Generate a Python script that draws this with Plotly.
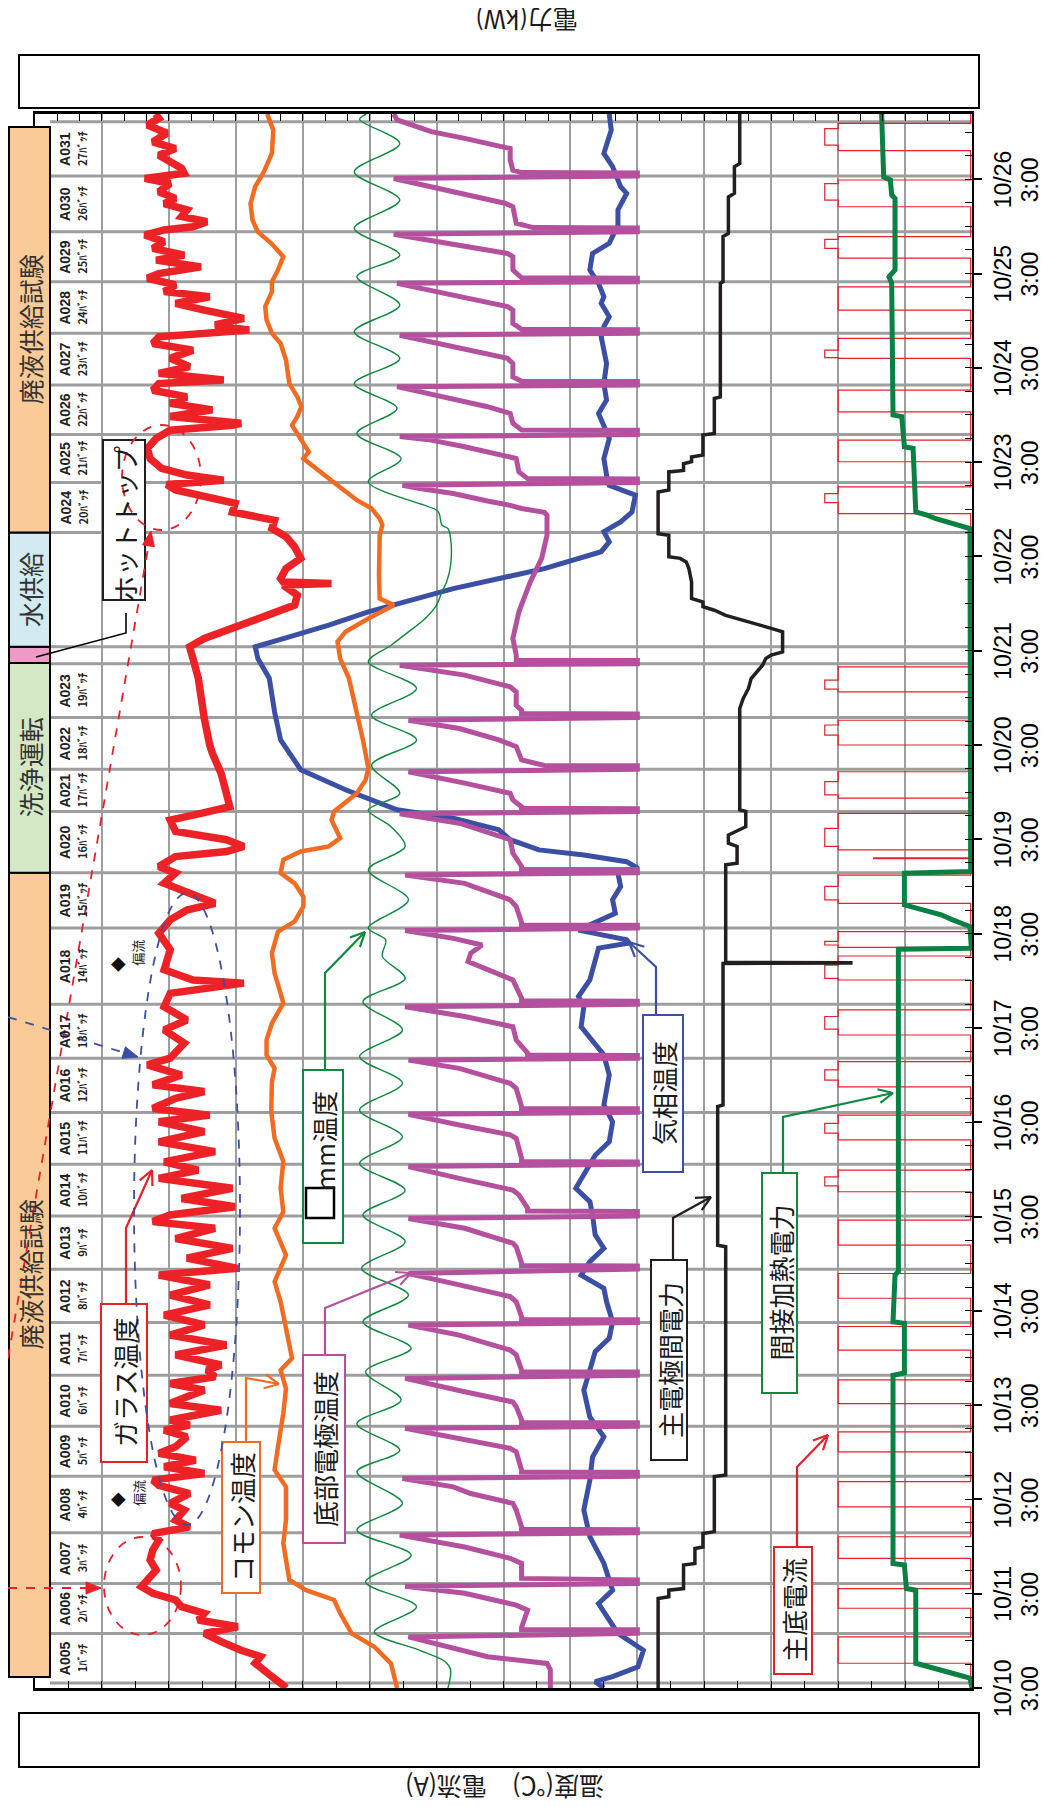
import math
import pandas as pd
import plotly.graph_objects as go

# ---------------- time base ----------------
START = pd.Timestamp("2013-10-10 03:00")
END_H = 400.6  # hours shown after START


def when(h):
    return (START + pd.Timedelta(hours=h)).strftime("%Y-%m-%d %H:%M:%S")


def whens(hs):
    return [when(h) for h in hs]


# ---------------- data (hours after 10/10 3:00) ----------------
# batch boundary lines
BOUNDS_H = [1.3, 13.9, 26.6, 39.5, 53.9, 66.6, 79.6, 93.0, 106.6, 120.1, 133.3, 146.5, 160.3,
            174.0, 193.4, 207.5, 223.1, 233.8, 247.0, 260.7, 265.0, 294.1, 306.8, 319.0,
            331.6, 344.8, 357.9, 370.6, 384.8, 398.6]
BATCH_IDS = ["A%03d" % n for n in range(5, 32)]
BATCH_NOS = ["%dﾊﾞｯﾁ" % n for n in range(1, 28)]

PHASE_NAME = ["廃液供給試験", "洗浄運転", "", "水供給", "廃液供給試験"]
PHASE_FROM = [2.8, 207.5, 260.9, 265.0, 294.1]
PHASE_TO = [207.5, 260.9, 265.0, 294.1, 397.3]
PHASE_COLOR = ["#FBCB97", "#D4E8C6", "#EE9AC6", "#D2EBF3", "#FBCB97"]

# glass temperature (°C)
GLASS_H = [0.0, 0.7, 2.9, 4.6, 6.3, 8.0, 9.6, 11.8, 13.9, 15.6, 17.3, 19.0, 20.7, 22.4, 24.1, 25.8,
           27.5, 30.0, 32.6, 35.1, 37.6, 39.3, 41.0, 42.7, 45.3, 47.0, 49.5, 51.6, 52.9, 54.6, 56.3,
           58.0, 59.7, 61.4, 63.9, 65.6, 66.9, 68.2, 70.7, 72.4, 74.1, 75.8, 77.5, 79.2, 80.9,
           82.2, 84.8, 87.3, 89.8, 92.4, 94.9, 97.5, 100.0, 102.6, 105.1, 106.8, 109.4, 111.9,
           114.4, 117.0, 118.7, 120.4, 122.5, 124.6, 127.2, 129.7, 131.8, 133.9, 136.5, 139.0,
           141.6, 144.1, 145.8, 147.5, 150.1, 151.8, 153.5, 156.0, 158.6, 160.3,
           164.1, 167.5, 170.0, 173.4, 176.8, 179.4, 180.2, 182.8, 187.9, 192.1, 195.5, 198.0,
           199.7, 202.3, 204.8, 207.4, 209.1, 211.6, 212.9, 214.2, 215.9, 218.0, 220.9, 222.6,
           224.3, 227.7, 232.8, 237.9,
           240.0, 246.7, 251.8, 257.0, 262.0, 265.0, 267.1, 269.7, 272.2, 275.6, 278.1, 280.7,
           281.1, 281.5, 282.4, 284.9, 287.5, 290.4, 293.0, 295.1, 297.2, 299.3, 301.5, 303.2,
           304.9, 306.3, 307.4, 308.7, 310.4, 312.9, 315.5, 318.0, 320.1, 321.4,
           321.9, 323.6, 325.3, 327.0, 328.6, 330.3, 332.0, 332.9, 334.6, 336.3, 338.4, 340.5,
           342.2, 343.9, 345.6, 346.9, 348.6, 350.7, 352.4, 354.1, 355.4, 357.1, 358.8, 360.0,
           361.7, 363.4, 364.7, 366.4, 368.1, 369.8, 371.1, 371.9, 373.2, 374.5, 376.2, 377.8,
           379.1, 380.8, 382.9, 384.2, 385.5, 386.8, 388.5, 390.1, 391.8, 393.5, 395.7, 397.8,
           399.5, 400.6]
GLASS_T = [1025, 1029, 1046, 1058, 1071, 1063, 1092, 1122, 1147, 1097, 1156, 1147, 1181, 1190, 1224,
           1241, 1232, 1219, 1228, 1224, 1215, 1224, 1169, 1190, 1177, 1198, 1169, 1215, 1224, 1147,
           1207, 1160, 1215, 1190, 1173, 1207, 1169, 1198, 1122, 1198, 1173, 1147, 1198, 1131, 1143,
           1122, 1190, 1114, 1198, 1147, 1207, 1139, 1198, 1139, 1215, 1097, 1173, 1105,
           1190, 1131, 1224, 1198, 1101, 1181, 1105, 1215, 1156, 1207, 1131, 1215,
           1147, 1215, 1139, 1224, 1190, 1147, 1224, 1181, 1232, 1198,
           1177, 1207, 1173, 1207, 1198, 1088, 1164, 1207, 1198, 1215, 1198, 1173,
           1131, 1173, 1207, 1190, 1215, 1190, 1114, 1088, 1114, 1190, 1198, 1152,
           1109, 1114, 1122, 1135,
           1139, 1147, 1152, 1156, 1164, 1169, 1147, 1105, 1063, 1012, 1008, 1029,
           957, 1029, 1033, 1025, 1003, 1012, 1025, 1046, 1042, 1105, 1101, 1147,
           1190, 1203, 1118, 1173, 1211, 1228, 1232, 1219, 1198, 1105,
           1092, 1198, 1135, 1198, 1173, 1224, 1215, 1118, 1215, 1169, 1198, 1164,
           1224, 1215, 1080, 1131, 1088, 1147, 1190, 1139, 1207, 1190, 1232, 1215,
           1152, 1219, 1177, 1224, 1207, 1236, 1207, 1164, 1143, 1181, 1173, 1207,
           1190, 1215, 1198, 1236, 1177, 1181, 1198, 1215, 1190, 1224, 1203, 1232,
           1215, 1220]

# common (コモン) temperature (°C)
COMMON_H = [0, 6.2, 10.5, 13.9, 19.0, 22.4, 24.9, 27.5, 36.8, 42.7, 51.2, 55.5, 61.4, 69.9, 76.2,
            80.9, 83.9, 87.3, 92.4, 98.3, 103.4, 110.2, 117.0, 121.2, 127.2, 134.0, 139.9, 146.7,
            154.3, 157.7, 161.1, 164.9, 169.2, 174.3, 176.8, 181.9, 187.0, 192.5, 195.1, 198.9,
            201.4, 204.8, 207.4, 210.8, 212.9, 214.2, 216.3, 220.9, 223.1, 227.7, 231.1, 234.1,
            241.3, 245.1, 251.0, 257.0, 262.0, 266.3, 268.8, 272.2, 275.6, 277.3, 283.2, 293.4,
            296.0, 297.6, 300.2, 302.3, 306.1, 307.8, 312.9, 314.6, 318.9, 321.4, 323.6, 326.1,
            328.6, 332.0, 338.0, 342.2, 344.8, 348.2, 351.6, 355.4, 357.9, 360.9, 364.3, 367.7,
            370.6, 373.6, 377.8, 382.1, 385.9, 390.6, 396.5, 400.6]
COMMON_T = [859, 868, 893, 927, 944, 953, 995, 1020, 1029, 1025, 1025, 1042, 1037, 1029, 1025,
            1033, 1016, 1020, 1025, 1033, 1042, 1025, 1042, 1029, 1033, 1029, 1042, 1047,
            1046, 1042, 1054, 1054, 1046, 1029, 1033, 1042, 1046, 1037, 1012, 999,
            999, 1012, 1033, 1029, 1003, 961, 944, 957, 953, 919, 906, 902,
            910, 915, 923, 931, 944, 948, 936, 902, 864, 885, 886, 885,
            881, 885, 897, 919, 948, 961, 999, 991, 1008, 1016, 1008, 1002,
            1008, 1020, 1025, 1033, 1046, 1054, 1056, 1046, 1046, 1037, 1029, 1047,
            1067, 1075, 1078, 1071, 1058, 1046, 1044, 1053]

# □mm temperature (°C)
MM_H = [0, 4.6, 6.7, 9.6, 14.3, 20.7, 27.0, 33.8, 40.2, 47.0, 55.0, 60.5, 67.3, 73.3, 80.5, 86.5,
        93.2, 100.0, 106.8, 113.6, 120.4, 126.7, 133.5, 140.3, 147.1, 153.9, 160.7, 167.5, 174.7,
        180.6, 186.2, 190.4, 193.4, 200.6, 208.2, 214.2, 219.2, 223.5, 227.7, 234.9, 241.3, 247.6,
        254.4, 261.2, 265.4, 268.8, 272.2, 275.6, 279.0, 281.5, 285.8, 292.6, 295.1, 296.0, 298.9,
        299.8, 307.0, 312.9, 319.3, 325.7, 332.0, 338.4, 345.2, 352.0, 359.2, 364.7, 371.5, 378.7,
        385.9, 393.1, 399.2, 400.6]
MM_T = [783, 779, 787, 825, 893, 830, 906, 838, 919, 851, 919, 855, 919, 853, 906, 838,
        910, 842, 912, 847, 910, 847, 915, 851, 915, 851, 915, 851, 910,
        847, 881, 876, 902, 842, 902, 847, 868, 902, 855, 897, 830, 897,
        830, 902, 868, 842, 817, 800, 792, 785, 779, 779, 783, 792, 796,
        800, 902, 853, 919, 859, 923, 855, 923, 855, 919, 855, 923, 855,
        923, 855, 915, 905]

# bottom electrode temperature (°C)
BOTTOM_H = [0, 4.6, 6.25, 7.95, 13.0,
            13.9, 14.8, 14.9, 15.4, 19.8, 21.1, 24.1, 25.9,
            26.6, 27.5, 27.6, 27.9, 31.7, 33.0, 35.9, 38.9,
            39.5, 40.3, 40.4, 41.0, 45.3, 47.0, 49.5, 51.2, 53.3,
            53.9, 54.9, 55.0, 55.45, 60.1, 61.0, 63.1, 66.1,
            66.6, 67.5, 67.6, 68.2, 71.6, 72.8, 75.4, 78.8,
            79.6, 80.4, 80.5, 80.9, 84.8, 86.0, 89.8, 92.4,
            93.0, 93.7, 93.8, 94.5, 98.3, 99.6, 102.6, 105.5,
            106.6, 107.4, 107.5, 108.1, 112.3, 113.2, 117.0, 119.5,
            120.1, 121.3, 121.4, 122.1, 125.5, 126.7, 129.7, 132.7,
            133.3, 133.9, 134.0, 134.8, 139.9, 140.8, 143.3, 146.0,
            146.5, 147.4, 147.5, 148.0, 152.6, 153.9, 157.7, 159.8,
            160.3, 161.0, 161.1, 161.6, 164.9, 168.3, 170.9, 173.4,
            174.0, 174.8, 174.9, 175.6, 180.2, 182.8, 184.9, 187.0, 189.1, 190.8, 192.8,
            193.4, 194.1, 194.2, 194.8, 198.9, 200.6, 204.8, 206.9,
            207.5, 208.3, 208.4, 209.1, 212.5, 215.9, 220.1, 222.5,
            223.1, 223.8, 223.9, 224.3, 226.0, 227.7, 230.3, 233.2,
            233.8, 234.7, 234.8, 236.2, 239.6, 241.3, 244.2, 246.3,
            247.0, 247.9, 248.0, 248.9, 250.1, 253.5, 254.8, 257.8, 260.3,
            260.7, 261.5, 261.6, 262.9, 267.1, 273.9, 281.5, 287.5, 293.4, 298.5, 299.2, 300.2,
            301.0, 302.1, 304.0, 305.3, 306.1,
            306.8, 307.7, 307.8, 309.5, 312.9, 313.3, 315.9, 317.6, 318.5,
            319.0, 320.1, 320.2, 321.9, 324.4, 326.1, 331.2,
            331.6, 332.5, 332.6, 333.7, 337.1, 338.4, 344.3,
            344.8, 345.7, 345.8, 347.3, 350.7, 351.6, 357.5,
            357.9, 358.8, 358.9, 360.9, 364.3, 365.1, 370.0,
            370.6, 371.6, 371.7, 372.8, 377.0, 377.9, 384.2,
            384.8, 385.6, 385.7, 386.3, 388.9, 391.8, 394.4, 396.1, 399.1, 400.6]
BOTTOM_T = [630, 630, 635, 724, 842,
            500, 500, 673, 673, 664, 681, 758, 847,
            500, 500, 673, 673, 673, 690, 758, 855,
            500, 500, 673, 673, 681, 686, 749, 775, 851,
            500, 500, 673, 673, 681, 690, 758, 847,
            500, 500, 673, 673, 681, 686, 758, 847,
            500, 500, 673, 673, 681, 690, 766, 842,
            500, 500, 673, 673, 681, 690, 766, 842,
            500, 500, 673, 673, 681, 686, 758, 842,
            500, 500, 664, 664, 677, 686, 766, 842,
            500, 500, 673, 673, 681, 690, 766, 842,
            500, 500, 673, 673, 681, 690, 766, 842,
            500, 500, 664, 664, 681, 686, 758, 847,
            500, 500, 673, 673, 686, 724, 753, 749, 732, 775, 847,
            500, 500, 673, 673, 681, 690, 758, 847,
            500, 500, 673, 673, 686, 690, 766, 855,
            500, 500, 673, 673, 686, 690, 758, 842,
            500, 500, 639, 673, 681, 707, 766, 842,
            500, 500, 673, 673, 681, 681, 690, 758, 855,
            500, 500, 681, 681, 686, 677, 660, 643, 635, 635, 639, 673,
            690, 724, 775, 825, 851,
            500, 500, 664, 677, 681, 690, 758, 808, 855,
            500, 500, 673, 686, 690, 724, 859,
            500, 500, 673, 686, 686, 694, 855,
            500, 500, 673, 686, 686, 694, 859,
            500, 500, 673, 686, 686, 694, 864,
            500, 500, 656, 681, 686, 698, 864,
            500, 500, 673, 686, 690, 690, 758, 808, 859, 864]

# gas phase temperature (°C)
GAS_H = [0, 1.6, 2.9, 5.4, 9.6, 13.9, 21.5, 24.9, 31.7, 38.5, 45.3, 52.9, 58.8, 63.9, 69.0, 75.8,
         80.9, 85.6, 89.0, 93.2, 98.3, 101.7, 105.1, 108.5, 111.9, 115.3, 120.4, 123.8, 127.2,
         130.6, 135.6, 139.0, 144.1, 148.4, 156.0, 161.1, 164.9, 168.3, 173.4, 176.0, 180.2,
         185.3, 188.3, 189.6, 190.4, 192.9, 194.6, 197.2, 200.6, 204.0, 207.4, 208.6, 210.3,
         212.0, 213.3, 215.9, 218.4, 221.4, 223.5, 228.6, 233.7, 241.3, 248.4, 257.0, 262.0,
         265.0, 267.1, 270.5, 273.9, 277.3, 279.8, 284.9, 289.2, 291.7, 294.3, 296.8, 299.3,
         303.6, 306.1, 308.7, 312.9, 318.0, 321.4, 324.4, 327.8, 332.0, 337.1, 343.9, 346.5,
         349.0, 352.4, 354.1, 357.5, 360.9, 365.1, 367.7, 372.3, 376.2, 380.4, 382.1, 387.2,
         390.6, 396.5, 400.6]
GAS_T = [550, 563, 537, 499, 491, 529, 558, 537, 550, 571, 580, 571, 567, 550, 571, 580,
         571, 563, 542, 537, 546, 550, 584, 571, 550, 563, 567, 571, 592,
         580, 563, 542, 537, 550, 542, 550, 567, 584, 580, 588, 571,
         563, 558, 512, 516, 588, 567, 533, 537, 525, 529, 499, 516,
         580, 647, 690, 707, 775, 859, 936, 1003, 1033, 1042, 1050, 1067,
         1071, 1029, 961, 902, 825, 775, 639, 554, 542, 550, 525, 508,
         503, 542, 546, 550, 542, 550, 558, 546, 550, 546, 554, 550,
         542, 554, 550, 558, 571, 567, 542, 529, 529, 516, 525, 537,
         550, 539, 542]

# main electrode power (kW)
MAINPOW_H = [0, 22.8, 23.2, 24.9, 25.3, 31.3, 31.7, 35.5, 35.9, 39.3, 39.8, 53.8, 54.2, 112.3,
             112.7, 148.0, 148.4, 184.4, 184.5, 184.6, 184.7, 209.5, 209.9, 214.2, 215.0, 217.1,
             219.2, 223.1, 223.5, 249.3, 251.8, 254.4, 256.9, 258.6, 260.3, 262.0, 262.9, 263.7,
             268.8, 269.7, 270.5, 271.3, 272.2, 273.0, 274.3, 275.2, 276.4, 277.3, 281.5, 284.9,
             286.6, 287.5, 287.9, 293.4, 293.8, 304.4, 304.9, 309.5, 309.9, 311.6, 312.1, 313.3,
             313.8, 318.9, 319.3, 328.2, 328.6, 357.5, 357.9, 369.4, 370.2, 379.5, 380.4, 387.2,
             388.0, 400.6]
MAINPOW_KW = [46.9, 46.9, 45.3, 45.3, 43.1, 43.1, 41.4, 41.4, 40.2, 40.2, 38.5, 38.5, 36.8, 36.8,
              38.0, 38.0, 37.2, 37.2, 18.1, 18.1, 36.8, 36.8, 35.1, 35.1, 36.4, 36.4,
              33.8, 33.8, 34.7, 34.7, 34.2, 33.4, 33.0, 32.1, 31.3, 30.8, 30.0, 28.3,
              28.3, 30.0, 31.7, 33.4, 35.1, 36.8, 38.5, 40.2, 40.2, 41.9, 41.9, 42.3,
              42.7, 43.6, 45.3, 45.3, 46.9, 46.9, 45.3, 45.3, 43.1, 43.1, 41.9, 41.9,
              40.2, 40.2, 38.5, 38.5, 37.6, 37.6, 37.2, 37.2, 36.4, 36.4, 35.5, 35.5,
              34.7, 34.7]

# indirect heating power (kW)
INDPOW_H = [0, 2.5, 3.3, 4.1, 5.0, 5.8, 6.3, 24.9, 25.3, 31.3, 31.7, 79.6, 80.2, 92.8, 93.2,
            105.1, 106.0, 188.0, 188.3, 193.8, 194.6, 195.5, 196.8, 197.6, 198.5, 199.3, 207.4,
            207.8, 295.1, 295.9, 296.8, 297.6, 298.5, 299.3, 315.5, 315.9, 323.6, 324.0, 357.5,
            359.2, 360.9, 379.1, 380.0, 383.8, 384.6, 400.6]
INDPOW_KW = [0, 0.3, 2.0, 3.7, 5.0, 6.7, 8.4, 8.4, 9.8, 10.1, 11.8, 11.8, 10.1, 10.1, 11.8,
             11.5, 11.0, 11.0, 0.1, 0.3, 1.6, 2.9, 4.6, 6.3, 8.0, 10.1, 10.1,
             0.2, 0.3, 2.0, 3.7, 5.4, 6.7, 8.4, 8.8, 10.1, 10.5, 11.8, 12.0,
             12.4, 11.5, 11.5, 12.0, 12.2, 13.2, 13.5]

# main bottom current (A): pulses
PULSE_START = [6.3, 20.3, 33.0, 46.1, 60.1, 72.4, 86.0, 99.2, 112.7, 126.3, 139.5, 153.0, 166.2,
               180.2, 188.5, 199.7, 211.1, 213.3, 226.5, 240.0, 253.5, 298.9, 312.1, 324.8, 338.4,
               350.7, 363.9, 377.0, 391.3]
PULSE_HI_START = [None] * 9 + [127.8, 141.2, 154.7, 167.7, 180.6, 189.1, 200.6, None, 214.2,
                               227.3, 242.5, 254.2, 301.7, None, None, 338.6, None, 366.4, 378.7,
                               392.7]
PULSE_HI_END = [None] * 9 + [130.1, 143.7, 157.3, 170.9, 184.0, 190.0, 204.0, None, 218.8,
                             230.7, 245.1, 256.5, 304.0, None, None, 340.5, None, 368.7, 382.9,
                             396.9]
PULSE_END = [13.0, 25.3, 38.5, 52.5, 65.2, 78.4, 92.0, 105.5, 119.1, 131.8, 145.8, 159.4, 172.6,
             186.3, 192.5, 206.9, 211.3, 222.6, 233.2, 246.3, 259.9, 305.7, 317.6, 330.3, 343.5,
             356.6, 369.4, 383.8, 398.2]
PULSE_LEVEL = [200] * 16 + [147] + [200] * 12
CURRENT_BASE = 2
CURRENT_HIGH = 220

TICK_DAYS = list(range(10, 27))
TICK_DATE = ["10/%d" % d for d in TICK_DAYS]
TICK_TIME = ["3:00"] * len(TICK_DAYS)
TICK_VALS = [when(24 * (d - 10)) for d in TICK_DAYS]

# ---------------- build current step series ----------------
cur_h, cur_a = [0.0], [CURRENT_BASE]
for s, hs, he, e, lv in zip(PULSE_START, PULSE_HI_START, PULSE_HI_END, PULSE_END, PULSE_LEVEL):
    cur_h.append(s); cur_a.append(lv)
    if hs is not None:
        cur_h += [hs, he]; cur_a += [CURRENT_HIGH, lv]
    cur_h.append(e); cur_a.append(CURRENT_BASE)
cur_h.append(END_H); cur_a.append(CURRENT_BASE)

# ---------------- figure ----------------
# the page body has an 8px default margin: size the figure so it fits the window
OFF = 8
W, H = 1048 - 2 * OFF, 1807 - 2 * OFF
L, R, T, B = 35.0, 972.0, 114.0, 1688.0   # plot frame in window pixels
JP = "Noto Sans CJK JP"
SANS = "Liberation Sans, Arial, sans-serif"


def px(x):
    return (x - L) / (R - L)


def py(y):
    return (B - y) / (B - T)


fig = go.Figure()

fig.add_trace(go.Scatter(x=cur_a, y=whens(cur_h), mode="lines", line=dict(color="#E8202A", width=1.2, shape="vh"),
                         xaxis="x", yaxis="y", name="主底電流"))
fig.add_trace(go.Scatter(x=INDPOW_KW, y=whens(INDPOW_H), mode="lines", line=dict(color="#0A8043", width=5),
                         xaxis="x2", yaxis="y", name="間接加熱電力"))
fig.add_trace(go.Scatter(x=MAINPOW_KW, y=whens(MAINPOW_H), mode="lines", line=dict(color="#231F20", width=3.5),
                         xaxis="x2", yaxis="y", name="主電極間電力"))
fig.add_trace(go.Scatter(x=GAS_T, y=whens(GAS_H), mode="lines", line=dict(color="#3B4FA4", width=5),
                         xaxis="x", yaxis="y", name="気相温度"))
fig.add_trace(go.Scatter(x=BOTTOM_T, y=whens(BOTTOM_H), mode="lines", line=dict(color="#B4509E", width=5),
                         xaxis="x", yaxis="y", name="底部電極温度"))
fig.add_trace(go.Scatter(x=MM_T, y=whens(MM_H), mode="lines",
                         line=dict(color="#10893E", width=1.4, shape="spline", smoothing=0.9),
                         xaxis="x", yaxis="y", name="mm温度"))
fig.add_trace(go.Scatter(x=COMMON_T, y=whens(COMMON_H), mode="lines", line=dict(color="#F26B22", width=4.5),
                         xaxis="x", yaxis="y", name="コモン温度"))
fig.add_trace(go.Scatter(x=GLASS_T, y=whens(GLASS_H), mode="lines", line=dict(color="#EC2227", width=7.5),
                         xaxis="x", yaxis="y", name="ガラス温度"))

shapes = []
annots = []

# batch boundary lines
for h in BOUNDS_H:
    shapes.append(dict(type="line", xref="paper", yref="y", x0=px(50), x1=1, y0=when(h), y1=when(h),
                       line=dict(color="#9E9E9E", width=3), layer="between"))

# phase band
for name, a, b, col in zip(PHASE_NAME, PHASE_FROM, PHASE_TO, PHASE_COLOR):
    shapes.append(dict(type="rect", xref="paper", yref="y", x0=px(9), x1=px(50), y0=when(a), y1=when(b),
                       fillcolor=col, line=dict(color="black", width=2), layer="above"))
    if name:
        annots.append(dict(text=name, xref="paper", yref="y", x=px(29.5), y=when((a + b) / 2),
                           textangle=-90, showarrow=False, xanchor="center", yanchor="middle",
                           font=dict(family=JP, size=25, color="#333333")))

# batch row labels
rows = list(zip(BOUNDS_H[:19], BOUNDS_H[1:20])) + list(zip(BOUNDS_H[21:29], BOUNDS_H[22:30]))
for (a, b), bid, bno in zip(rows, BATCH_IDS, BATCH_NOS):
    mid = (a + b) / 2
    annots.append(dict(text="<b>%s</b>" % bid, xref="paper", yref="y", x=px(65), y=when(mid), textangle=-90,
                       showarrow=False, xanchor="center", yanchor="middle",
                       font=dict(family=SANS, size=14, color="#222222")))
    annots.append(dict(text="<b>%s</b>" % bno, xref="paper", yref="y", x=px(82), y=when(mid), textangle=-90,
                       showarrow=False, xanchor="center", yanchor="middle",
                       font=dict(family=JP, size=11, color="#222222")))

# ◆ 偏流 marks
for hd, hw in [(47.8, 49.6), (184.0, 187.1)]:
    annots.append(dict(text="◆", xref="paper", yref="y", x=px(117), y=when(hd), textangle=-90, showarrow=False,
                       xanchor="center", yanchor="middle",
                       font=dict(family=JP, size=15, color="#111111")))
    annots.append(dict(text="偏流", xref="paper", yref="y", x=px(138), y=when(hw), textangle=-90, showarrow=False,
                       xanchor="center", yanchor="middle",
                       font=dict(family=JP, size=13, color="#222222")))

# time axis labels (two rotated columns: date and hour)
for tv, d, tm in zip(TICK_VALS, TICK_DATE, TICK_TIME):
    annots.append(dict(text=d, xref="paper", yref="y", x=px(1003), y=tv, textangle=-90, showarrow=False,
                       xanchor="center", yanchor="middle", font=dict(family=SANS, size=23, color="black")))
    annots.append(dict(text=tm, xref="paper", yref="y", x=px(1030), y=tv, textangle=-90, showarrow=False,
                       xanchor="center", yanchor="middle", font=dict(family=SANS, size=23, color="black")))


def rect_px(x0, y0, x1, y1, color, width=2, fill="white"):
    shapes.append(dict(type="rect", xref="paper", yref="paper", x0=px(x0), x1=px(x1), y0=py(y1), y1=py(y0),
                       line=dict(color=color, width=width), fillcolor=fill, layer="above"))


def path_px(points):
    return "M " + " L ".join("%.5f,%.5f" % (px(x), py(y)) for x, y in points)


def callout(points, color, width=2.2, head=16, spread=0.45):
    shapes.append(dict(type="path", xref="paper", yref="paper", path=path_px(points),
                       line=dict(color=color, width=width), layer="above"))
    (x1, y1), (x2, y2) = points[-2], points[-1]
    a = math.atan2(y2 - y1, x2 - x1)
    for s in (spread, -spread):
        hx = x2 - head * math.cos(a + s)
        hy = y2 - head * math.sin(a + s)
        shapes.append(dict(type="path", xref="paper", yref="paper", path=path_px([(hx, hy), (x2, y2)]),
                           line=dict(color=color, width=width), layer="above"))


def dashed_arrow(p0, p1, color, width=1.8):
    shapes.append(dict(type="path", xref="paper", yref="paper", path=path_px([p0, p1]),
                       line=dict(color=color, width=width, dash="dash"), layer="above"))
    a = math.atan2(p1[1] - p0[1], p1[0] - p0[0])
    bx, by = p1[0] - 15 * math.cos(a), p1[1] - 15 * math.sin(a)
    nx, ny = -math.sin(a) * 6, math.cos(a) * 6
    shapes.append(dict(type="path", xref="paper", yref="paper",
                       path=path_px([p1, (bx + nx, by + ny), (bx - nx, by - ny)]) + " Z",
                       fillcolor=color, line=dict(color=color, width=1), layer="above"))


def ellipse_px(x0, y0, x1, y1, color):
    shapes.append(dict(type="circle", xref="paper", yref="paper", x0=px(x0), x1=px(x1), y0=py(y1), y1=py(y0),
                       line=dict(color=color, width=1.8, dash="dash"), layer="above"))


# masked tick-label boxes
rect_px(19, 55, 979, 108, "black", 2)
rect_px(19, 1713, 979, 1767, "black", 2)

# label boxes
LABELS = [
    ("ガラス温度", (101, 1304, 147, 1462), "#E8202A", 1383),
    ("コモン温度", (222, 1442, 260, 1593), "#F26B22", 1517),
    ("底部電極温度", (303, 1355, 345, 1543), "#B4509E", 1449),
    ("mm温度", (303, 1070, 343, 1243), "#10893E", 1141),
    ("気相温度", (643, 1015, 683, 1172), "#3B4FA4", 1093),
    ("主電極間電力", (651, 1260, 687, 1460), "#231F20", 1360),
    ("間接加熱電力", (762, 1173, 797, 1393), "#10893E", 1283),
    ("主底電流", (774, 1547, 812, 1674), "#E8202A", 1610),
    ("ホットトップ", (103, 440, 145, 600), "#231F20", 524),
]
for text, (x0, y0, x1, y1), col, cy in LABELS:
    rect_px(x0, y0, x1, y1, col, 2)
    annots.append(dict(text=text, xref="paper", yref="paper", x=px((x0 + x1) / 2), y=py(cy), textangle=-90,
                       showarrow=False, xanchor="center", yanchor="middle",
                       font=dict(family=JP, size=26, color="#1a1a1a")))
# redacted square in "□mm温度"
rect_px(306, 1188, 334, 1218, "black", 2.5)

# callout arrows
callout([(126, 1304), (126, 1228), (152, 1170)], "#E8202A")
callout([(246, 1442), (246, 1378), (279, 1384)], "#F26B22")
callout([(325, 1355), (325, 1308), (411, 1273)], "#B4509E")
callout([(325, 1070), (325, 973), (365, 932)], "#10893E")
callout([(656, 1015), (656, 967), (629, 942)], "#3B4FA4")
callout([(673, 1260), (673, 1218), (711, 1197)], "#231F20")
callout([(783, 1173), (783, 1117), (893, 1093)], "#10893E")
callout([(797, 1547), (797, 1467), (828, 1435)], "#E8202A")
shapes.append(dict(type="path", xref="paper", yref="paper", path=path_px([(36, 657), (126, 633), (126, 613)]),
                   line=dict(color="black", width=1.6), layer="above"))

# dashed highlights
ellipse_px(134, 893, 240, 1525, "#3B4FA4")
ellipse_px(122, 425, 201, 530, "#E8202A")
ellipse_px(104, 1537, 181, 1635, "#E8202A")
dashed_arrow((8, 1358), (151, 531), "#E8202A")
dashed_arrow((8, 1588), (101, 1588), "#E8202A")
dashed_arrow((8, 1017), (138, 1057), "#3B4FA4")

# axis titles (upside down, as in the rotated original)
annots.append(dict(text="電力(kW)", xref="paper", yref="paper", x=px(527), y=py(21), textangle=180,
                   xanchor="center", yanchor="middle",
                   showarrow=False, font=dict(family=JP, size=25, color="#1a1a1a")))
annots.append(dict(text="温度(℃)　電流(A)", xref="paper", yref="paper", x=px(505), y=py(1788), textangle=180,
                   xanchor="center", yanchor="middle",
                   showarrow=False, font=dict(family=JP, size=25, color="#1a1a1a")))

fig.update_layout(
    width=W, height=H, autosize=False,
    margin=dict(l=L - OFF, r=(W + OFF) - R, t=T - OFF, b=(H + OFF) - B, pad=0),
    paper_bgcolor="white", plot_bgcolor="white", showlegend=False,
    shapes=shapes, annotations=annots,
    xaxis=dict(range=[1400, 0], tick0=0, dtick=100, showgrid=True, gridcolor="#9E9E9E", gridwidth=2,
               showticklabels=False, ticks="inside", ticklen=7, tickcolor="black", tickwidth=1.2,
               minor=dict(dtick=50, ticks="inside", ticklen=7, tickcolor="black", tickwidth=1.2, showgrid=False),
               showline=True, linecolor="black", linewidth=3, zeroline=False, automargin=False, fixedrange=True),
    xaxis2=dict(range=[140, 0], overlaying="x", side="top", anchor="y", tick0=0, dtick=10 / 3,
                showgrid=False, showticklabels=False, ticks="inside", ticklen=7, tickcolor="black", tickwidth=1.2,
                showline=True, linecolor="black", linewidth=3, zeroline=False, automargin=False),
    yaxis=dict(type="date", range=[when(0), when(END_H)], side="right", tickmode="array",
               tickvals=TICK_VALS, showticklabels=False, ticks="outside", ticklen=8,
               tickwidth=1.5, tickcolor="black", showgrid=False, zeroline=False,
               showline=True, linecolor="black", linewidth=2, mirror=True, automargin=False,
               minor=dict(tick0=when(0), dtick=6 * 3600 * 1000, ticks="inside", ticklen=7, tickcolor="black",
                          tickwidth=1.2, showgrid=False)),
)

fig.write_html("out.html")
